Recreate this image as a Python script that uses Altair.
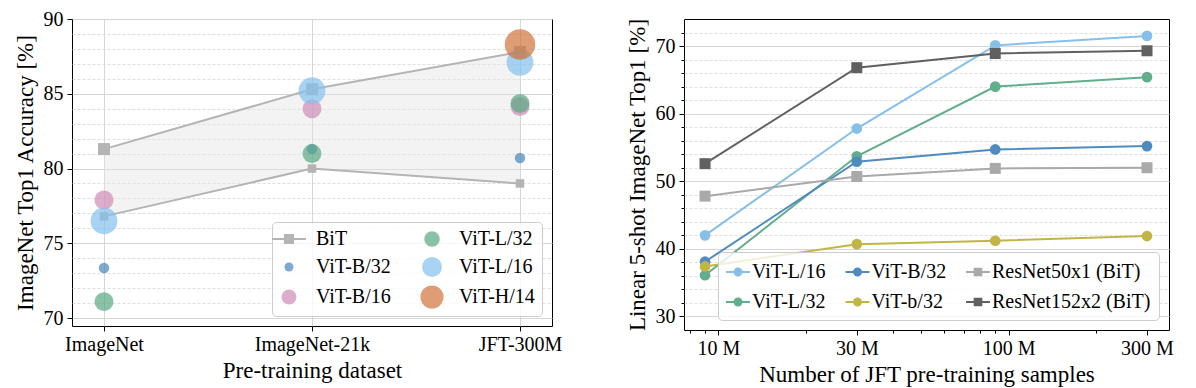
import altair as alt
import pandas as pd

FONT = "Liberation Serif"

# ---------------- data: left panel ----------------
datasets = ["ImageNet", "ImageNet-21k", "JFT-300M"]
bit_upper = [81.3, 85.3, 87.8]
bit_lower = [76.8, 80.0, 79.0]

vit_models = ["ViT-B/32", "ViT-B/16", "ViT-L/32", "ViT-L/16", "ViT-H/14"]
vit_b32 = [73.35, 81.3, 80.7]
vit_b16 = [77.9, 84.0, 84.15]
vit_l32 = [71.1, 81.0, 84.35]
vit_l16 = [76.5, 85.2, 87.1]
vit_h14 = [None, None, 88.3]

# ---------------- data: right panel ----------------
samples = [9e6, 30e6, 90e6, 300e6]
few_vit_l16 = [42.0, 57.8, 70.1, 71.5]
few_vit_l32 = [36.1, 53.7, 64.0, 65.4]
few_vit_b32 = [38.1, 52.9, 54.7, 55.2]
few_vit_bs32 = [37.4, 40.7, 41.2, 41.9]
few_rn50 = [47.8, 50.7, 51.9, 52.0]
few_rn152 = [52.6, 66.8, 68.9, 69.3]
right_series = ["ViT-L/16", "ViT-L/32", "ViT-B/32", "ViT-b/32", "ResNet50x1 (BiT)", "ResNet152x2 (BiT)"]

x_major = [1e7, 3e7, 1e8, 3e8]
x_minor = [8e6, 9e6, 2e7, 4e7, 5e7, 6e7, 7e7, 8e7, 9e7, 2e8]

# ---------------- styles ----------------
LEFT_ORDER = ["BiT", "ViT-B/32", "ViT-B/16", "ViT-L/32", "ViT-L/16", "ViT-H/14"]
LEFT_COLORS = ["#b4b4b4", "#4a84bc", "#cd8bb7", "#58a882", "#84c1ee", "#d2743a"]
VIT_PLOT_SIZES = [110, 360, 360, 720, 930]  # marker areas, vit_models order
LEFT_LEG_SIZES = [1156, 81, 225, 240, 400, 530]

RIGHT_COLORS = ["#86bfe9", "#62ad8b", "#4f8bbf", "#c2b548", "#a9a9a9", "#606060"]

GRID_MAJOR = "#d6d6d6"
GRID_MINOR = "#d6d6d6"


def pick(keys, vals, default, field="datum.value"):
    expr = default
    for k, v in reversed(list(zip(keys, vals))):
        expr = f"{field} === '{k}' ? {v} : ({expr})"
    return expr


# ---------------- tables ----------------
band_df = pd.DataFrame({"dataset": datasets, "lo": bit_lower, "hi": bit_upper})
bit_df = pd.DataFrame({
    "dataset": datasets * 2,
    "acc": bit_upper + bit_lower,
    "level": ["upper"] * 3 + ["lower"] * 3,
})
vit_rows = []
for m, vals in zip(vit_models, [vit_b32, vit_b16, vit_l32, vit_l16, vit_h14]):
    for d, v in zip(datasets, vals):
        if v is not None:
            vit_rows.append({"dataset": d, "acc": v, "model": m})
vit_df = pd.DataFrame(vit_rows)

series_vals = [few_vit_l16, few_vit_l32, few_vit_b32, few_vit_bs32, few_rn50, few_rn152]
few_rows = []
for s, vals in zip(right_series, series_vals):
    for n, v in zip(samples, vals):
        few_rows.append({"samples": n, "acc": v, "series": s, "bit": s.startswith("ResNet")})
few_df = pd.DataFrame(few_rows)

# ---------------- left panel ----------------
xsL = alt.Scale(type="point", domain=datasets, padding=0.1538)
xL = alt.X("dataset:N", scale=xsL,
           axis=alt.Axis(title="Pre-training dataset", labelAngle=0, grid=True,
                         gridColor=GRID_MAJOR, gridWidth=1, tickSize=5, labelPadding=3,
                         titlePadding=5, domain=False))
yscaleL = alt.Scale(domain=[69.47, 90], nice=False, zero=False)

band = alt.Chart(band_df).mark_area(color="#e4e4e4", opacity=0.45).encode(
    x=xL,
    y=alt.Y("lo:Q", scale=yscaleL,
            axis=alt.Axis(values=[v for v in range(70, 90) if v % 5], labels=False, ticks=False,
                          domain=False, grid=True, gridColor=GRID_MINOR, gridDash=[3, 2],
                          gridWidth=0.8, title=None, orient="left")),
    y2="hi:Q",
)

bit_line = alt.Chart(bit_df).mark_line(color="#b4b4b4", strokeWidth=2).encode(
    x=alt.X("dataset:N", scale=xsL),
    y=alt.Y("acc:Q", scale=yscaleL, axis=None),
    detail="level:N",
)
bit_up = alt.Chart(bit_df).transform_filter("datum.level === 'upper'").mark_point(
    shape="square", filled=True, color="#b4b4b4", opacity=1, size=144).encode(
    x=alt.X("dataset:N", scale=xsL),
    y=alt.Y("acc:Q", scale=yscaleL, axis=None),
)
bit_lo = alt.Chart(bit_df).transform_filter("datum.level === 'lower'").mark_point(
    shape="square", filled=True, color="#b4b4b4", opacity=1, size=72).encode(
    x=alt.X("dataset:N", scale=xsL),
    y=alt.Y("acc:Q", scale=yscaleL, axis=None),
)

bit_path = ("M-1,-0.06L1,-0.06L1,0.06L-1,0.06Z "
            "M-0.3,-0.3L0.3,-0.3L0.3,0.3L-0.3,0.3Z")
left_legend = alt.Legend(
    title=None, orient="bottom-right", offset=10, columns=2,
    symbolType={"expr": f"datum.value === 'BiT' ? '{bit_path}' : 'circle'"},
    symbolSize={"expr": pick(LEFT_ORDER, LEFT_LEG_SIZES, "100")},
    symbolFillColor={"expr": pick(LEFT_ORDER, [f"'{c}'" for c in LEFT_COLORS], "'#999'")},
    symbolOpacity={"expr": "datum.value === 'BiT' ? 1 : 0.7"},
    symbolStrokeWidth=0, symbolStrokeColor="transparent",
    labelFont=FONT, labelFontSize=20, labelColor="black", labelOffset=17, labelLimit=300,
    columnPadding=29, rowPadding=8, padding=7, fillColor="rgba(255,255,255,0.8)",
    strokeColor="#cccccc", cornerRadius=4,
)

vit_pts = alt.Chart(vit_df).transform_calculate(
    sz=pick(vit_models, VIT_PLOT_SIZES, "100", field="datum.model")
).mark_circle(opacity=0.7).encode(
    x=alt.X("dataset:N", scale=xsL),
    y=alt.Y("acc:Q", scale=yscaleL,
            axis=alt.Axis(values=[70, 75, 80, 85, 90], grid=True, gridColor=GRID_MAJOR, gridWidth=1,
                          tickSize=5, labelPadding=4, titlePadding=6, domain=False, orient="left",
                          title="ImageNet Top1 Accuracy [%]")),
    color=alt.Color("model:N", scale=alt.Scale(domain=LEFT_ORDER, range=LEFT_COLORS), legend=left_legend),
    size=alt.Size("sz:Q", scale=None),
)

left = alt.layer(band, bit_line, bit_up, bit_lo, vit_pts).resolve_axis(y="independent").properties(
    width=480, height=307)

# ---------------- right panel ----------------
xscaleR = alt.Scale(type="log", domain=[7.617e6, 3.572e8], nice=False)
yscaleR = alt.Scale(domain=[28, 74], nice=False, zero=False)

circ_path = ("M-1,-0.085L1,-0.085L1,0.085L-1,0.085Z "
             "M-0.375,0A0.375,0.375 0 1,1 0.375,0A0.375,0.375 0 1,1 -0.375,0Z")
sq_path = ("M-1,-0.085L1,-0.085L1,0.085L-1,0.085Z "
           "M-0.36,-0.36L0.36,-0.36L0.36,0.36L-0.36,0.36Z")
right_legend = alt.Legend(
    title=None, orient="bottom-right", offset=10, columns=3,
    symbolType={"expr": f"indexof(datum.value, 'ResNet') === 0 ? '{sq_path}' : '{circ_path}'"},
    symbolSize=576,
    symbolFillColor={"expr": pick(right_series, [f"'{c}'" for c in RIGHT_COLORS], "'#999'")},
    symbolOpacity=1, symbolStrokeWidth=0, symbolStrokeColor="transparent",
    labelFont=FONT, labelFontSize=20, labelColor="black", labelOffset=2, labelLimit=300,
    columnPadding=19.5, rowPadding=8, padding=8, fillColor="rgba(255,255,255,0.8)",
    strokeColor="#cccccc", cornerRadius=4,
)
colorR = alt.Color("series:N", scale=alt.Scale(domain=right_series, range=RIGHT_COLORS), legend=right_legend)

lines = alt.Chart(few_df).mark_line(strokeWidth=2).encode(
    x=alt.X("samples:Q", scale=xscaleR,
            axis=alt.Axis(values=x_minor, labels=False, tickSize=3, grid=False, domain=False,
                          title=None, orient="bottom")),
    y=alt.Y("acc:Q", scale=yscaleR,
            axis=alt.Axis(values=[v for v in range(32, 74, 2) if v % 10], labels=False, tickSize=3,
                          grid=True, gridColor=GRID_MINOR, gridDash=[3, 2], gridWidth=0.8,
                          domain=False, title=None, orient="left")),
    color=colorR,
    order=alt.Order("samples:Q"),
)
circ_pts = alt.Chart(few_df).transform_filter("!datum.bit").mark_point(
    filled=True, opacity=1, size=115, shape="circle").encode(
    x=alt.X("samples:Q", scale=xscaleR,
            axis=alt.Axis(values=x_major, labelExpr="format(datum.value / 1e6, 'd') + ' M'",
                          tickSize=5, labelPadding=3, grid=False, domain=False, labelOverlap=False,
                          title="Number of JFT pre-training samples", titlePadding=5, orient="bottom")),
    y=alt.Y("acc:Q", scale=yscaleR,
            axis=alt.Axis(values=[30, 40, 50, 60, 70], tickSize=5, labelPadding=4, grid=True,
                          gridColor=GRID_MAJOR, gridWidth=1, domain=False, titlePadding=6,
                          title="Linear 5-shot ImageNet Top1 [%]", orient="left")),
    color=colorR,
)
sq_pts = alt.Chart(few_df).transform_filter("datum.bit").mark_point(
    filled=True, opacity=1, size=121, shape="square").encode(
    x=alt.X("samples:Q", scale=xscaleR, axis=None),
    y=alt.Y("acc:Q", scale=yscaleR, axis=None),
    color=colorR,
)

right = alt.layer(lines, circ_pts, sq_pts).resolve_axis(x="independent", y="independent").properties(
    width=485, height=311)

chart = alt.hconcat(left, right, spacing=62).resolve_scale(
    color="independent", size="independent", shape="independent",
    x="independent", y="independent",
).properties(
    padding={"top": 0, "left": 5, "right": 5, "bottom": 2},
).configure(font=FONT).configure_view(
    stroke="black", strokeWidth=1,
).configure_axis(
    labelFont=FONT, titleFont=FONT, labelFontSize=20, titleFontSize=23,
    titleFontWeight="normal", labelColor="black", titleColor="black",
    tickColor="black", domainColor="black",
)

chart.save("out.html", embed_options={"renderer": "svg", "actions": False})
